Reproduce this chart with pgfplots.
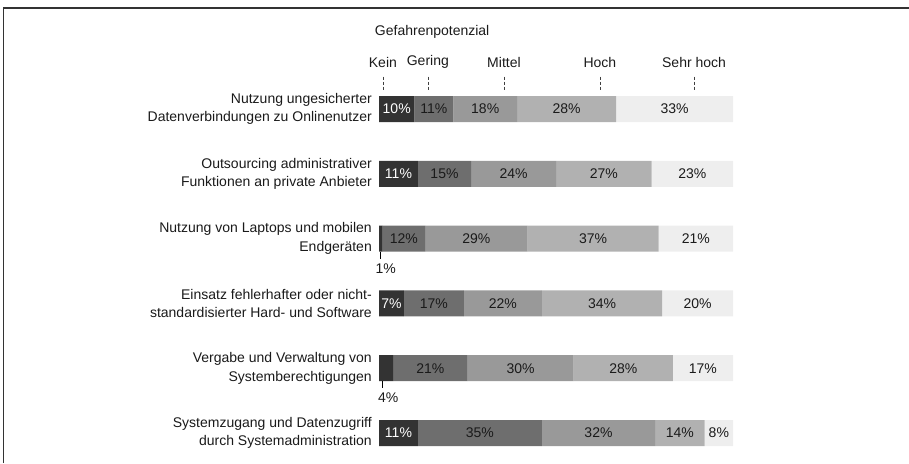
\documentclass[border=0pt]{standalone}
\usepackage{fontspec}
\setmainfont{Liberation Sans}
\usepackage{pgfplots}
\usepackage{pgfplotstable}
\pgfplotsset{compat=1.18}

\definecolor{cKein}{HTML}{333333}
\definecolor{cGering}{HTML}{6E6E6E}
\definecolor{cMittel}{HTML}{999999}
\definecolor{cHoch}{HTML}{B1B1B1}
\definecolor{cSehr}{HTML}{EEEEEE}
\definecolor{txt}{HTML}{1A1A1A}

\pgfplotstableread{
row kein gering mittel hoch sehr
0 10 11 18 28 33
1 11 15 24 27 23
2 1 12 29 37 21
3 7 17 22 34 20
4 4 21 30 28 17
5 11 35 32 14 8
}\data

\pgfplotstableread{
x y label
5 0 10\%
5.5 1 11\%
3.5 3 7\%
5.5 5 11\%
}\whitelabels

\pgfplotstableread{
x y label
15.5 0 11\%
30 0 18\%
53 0 28\%
83.5 0 33\%
18.5 1 15\%
38 1 24\%
63.5 1 27\%
88.5 1 23\%
7 2 12\%
27.5 2 29\%
60.5 2 37\%
89.5 2 21\%
1.9 2.46 1\%
15.5 3 17\%
35 3 22\%
63 3 34\%
90 3 20\%
14.5 4 21\%
40 4 30\%
69 4 28\%
91.5 4 17\%
2.6 4.46 4\%
28.5 5 35\%
62 5 32\%
85 5 14\%
96 5 8\%
}\blacklabels

\pgfplotsset{
  base/.style={
    at={(379pt,-76.6pt)}, anchor=north west,
    scale only axis, width=354pt, height=388.8pt,
    xmin=0, xmax=100, ymin=-0.5, ymax=5.5,
    y dir=reverse, enlargelimits=false, clip=false,
    axis line style={draw=none}, major tick length=0pt,
    xtick=\empty,
  },
  hdash/.style={black!75, line width=0.7pt, dash pattern=on 3pt off 2pt},
}

\begin{document}
\fontsize{14}{18.5}\selectfont
\begin{tikzpicture}
\useasboundingbox (0,0) rectangle (909pt,-463pt);
\draw[line width=1.4pt, black!80] (3.6pt,-463pt) -- (3.6pt,-8pt) -- (909pt,-8pt);

\begin{axis}[base,
  xbar stacked, bar width=26pt,
  ytick={0,1,2,3,4,5},
  yticklabels={
    {Nutzung ungesicherter\\Datenverbindungen zu Onlinenutzer},
    {Outsourcing administrativer\\Funktionen an private Anbieter},
    {Nutzung von Laptops und mobilen\\Endger\"aten},
    {Einsatz fehlerhafter oder nicht-\\standardisierter Hard- und Software},
    {Vergabe und Verwaltung von\\Systemberechtigungen},
    {Systemzugang und Datenzugriff\\durch Systemadministration}},
  yticklabel style={align=right, inner sep=0pt, xshift=-7pt, text=txt,
    font=\fontsize{14}{18.5}\selectfont},
]
\addplot[fill=cKein, draw=none] table[x=kein, y=row] {\data};
\addplot[fill=cGering, draw=none] table[x=gering, y=row] {\data};
\addplot[fill=cMittel, draw=none] table[x=mittel, y=row] {\data};
\addplot[fill=cHoch, draw=none] table[x=hoch, y=row] {\data};
\addplot[fill=cSehr, draw=none] table[x=sehr, y=row] {\data};
\end{axis}

\begin{axis}[base, ytick=\empty]
\addplot[draw=none, mark=none, nodes near coords, point meta=explicit symbolic,
  every node near coord/.style={anchor=center, text=white, inner sep=0pt,
  font=\fontsize{14}{16}\selectfont}]
  table[x=x, y=y, meta=label] {\whitelabels};
\addplot[draw=none, mark=none, nodes near coords, point meta=explicit symbolic,
  every node near coord/.style={anchor=center, text=txt, inner sep=0pt,
  font=\fontsize{14}{16}\selectfont}]
  table[x=x, y=y, meta=label] {\blacklabels};
\addplot[black, line width=0.8pt] coordinates {(0.5,2.2) (0.5,2.31)};
\addplot[black, line width=0.8pt] coordinates {(1,4.2) (1,4.31)};
\addplot[hdash] coordinates {(1.2,-0.5) (1.2,-0.28)};
\addplot[hdash] coordinates {(14,-0.5) (14,-0.28)};
\addplot[hdash] coordinates {(35.5,-0.5) (35.5,-0.28)};
\addplot[hdash] coordinates {(62.4,-0.5) (62.4,-0.28)};
\addplot[hdash] coordinates {(89,-0.5) (89,-0.28)};
% header
\node[anchor=west, text=txt, inner sep=0pt] at (axis cs:-1.2,-1.19) {Gefahrenpotenzial};
\node[text=txt, inner sep=0pt] at (axis cs:1.1,-0.725) {Kein};
\node[text=txt, inner sep=0pt] at (axis cs:13.8,-0.725) {Gering};
\node[text=txt, inner sep=0pt] at (axis cs:35.3,-0.725) {Mittel};
\node[text=txt, inner sep=0pt] at (axis cs:62.4,-0.725) {Hoch};
\node[text=txt, inner sep=0pt] at (axis cs:89,-0.725) {Sehr hoch};
\end{axis}
\end{tikzpicture}
\end{document}
